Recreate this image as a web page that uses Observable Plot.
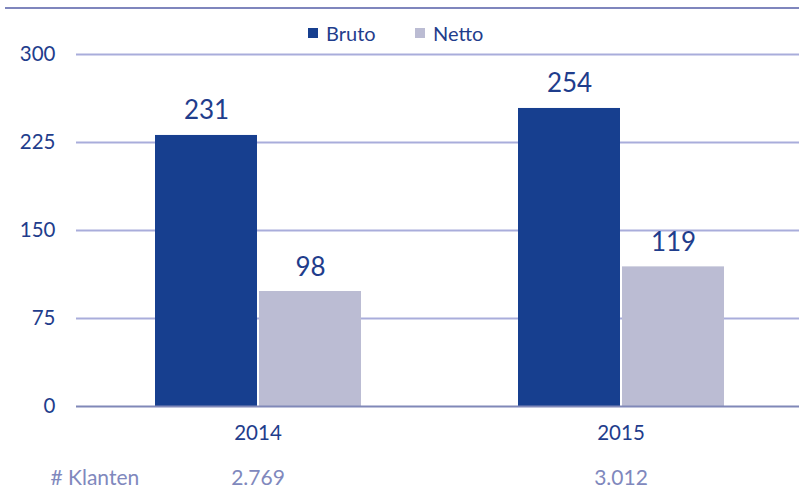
<!DOCTYPE html>
<html>
<head>
<meta charset="utf-8">
<script src="https://cdn.jsdelivr.net/npm/d3@7"></script>
<script src="https://cdn.jsdelivr.net/npm/@observablehq/plot@0.6"></script>
<style>
  html, body { margin: 0; padding: 0; background: #fff; }
  #wrap { position: relative; width: 799px; height: 491px; font-family: Lato, "Open Sans", sans-serif; overflow: hidden; }
  #topline { position: absolute; left: 5px; right: 0; top: 7px; height: 2px; background: #7f86bd; }
  #legend { position: absolute; top: 21px; left: 0; width: 799px; height: 24px; font-size: 20px; color: #1f3d8c; }
  .item { position: absolute; top: 0; display: flex; align-items: center; height: 24px; }
  .sw { width: 10px; height: 10px; margin-right: 8px; }
  #chart { position: absolute; left: 0; top: 0; }
</style>
</head>
<body>
<div id="wrap">
  <div id="chart"></div>
  <div id="topline"></div>
  <div id="legend"></div>
</div>
<script>
const years = ["2014", "2015"];
const series = ["Bruto", "Netto"];
const bruto = [231, 254];
const netto = [98, 119];
const klanten = ["2.769", "3.012"];
const klantenLabel = "# Klanten";
const colors = ["#173f8f", "#bbbcd3"];
const yTicks = [0, 75, 150, 225, 300];

const data = [];
years.forEach((yr, i) => {
  data.push({year: yr, series: "Bruto", value: bruto[i]});
  data.push({year: yr, series: "Netto", value: netto[i]});
});
const klantenData = years.map((yr, i) => ({year: yr, text: klanten[i]}));

const textColor = "#1f3d8c";

const chart = Plot.plot({
  width: 799,
  height: 491,
  marginTop: 54,
  marginBottom: 85,
  marginLeft: 76,
  marginRight: 0,
  style: {fontFamily: "Lato, 'Open Sans', sans-serif", fontSize: "20.5px", color: textColor, background: "transparent", overflow: "visible"},
  fx: {domain: years, padding: 0, range: [76, 802], axis: "bottom", tickSize: 0, tickPadding: 19, label: null},
  x: {domain: series, paddingInner: 0.02, paddingOuter: 0.755, axis: null},
  y: {domain: [0, 300], ticks: yTicks, tickSize: 0, tickPadding: 21, label: null},
  color: {domain: series, range: colors},
  marks: [
    Plot.ruleY(yTicks.filter(d => d > 0), {stroke: "#a9addb", strokeWidth: 2}),
    Plot.barY(data, {fx: "year", x: "series", y: "value", fill: "series"}),
    Plot.ruleY([0], {stroke: "#8088b8", strokeWidth: 2}),
    Plot.text(data, {fx: "year", x: "series", y: "value", text: d => String(d.value), lineAnchor: "bottom", dy: -16, fontSize: 26, fill: textColor}),
    Plot.text(klantenData, {fx: "year", text: "text", frameAnchor: "bottom", dy: 72, lineAnchor: "middle", fill: "#8088bd", fontSize: 21}),
    Plot.text([{year: years[0], text: klantenLabel}], {fx: "year", text: "text", frameAnchor: "bottom-left", textAnchor: "start", dx: -26, dy: 72, lineAnchor: "middle", fill: "#8088bd", fontSize: 21})
  ]
});
document.getElementById("chart").appendChild(chart);

// legend
const legend = document.getElementById("legend");
const legendPos = [308, 415];
series.forEach((s, i) => {
  const it = document.createElement("div");
  it.className = "item";
  it.style.left = legendPos[i] + "px";
  const sw = document.createElement("span");
  sw.className = "sw";
  sw.style.background = colors[i];
  const tx = document.createElement("span");
  tx.textContent = s;
  it.appendChild(sw);
  it.appendChild(tx);
  legend.appendChild(it);
});
</script>
</body>
</html>
